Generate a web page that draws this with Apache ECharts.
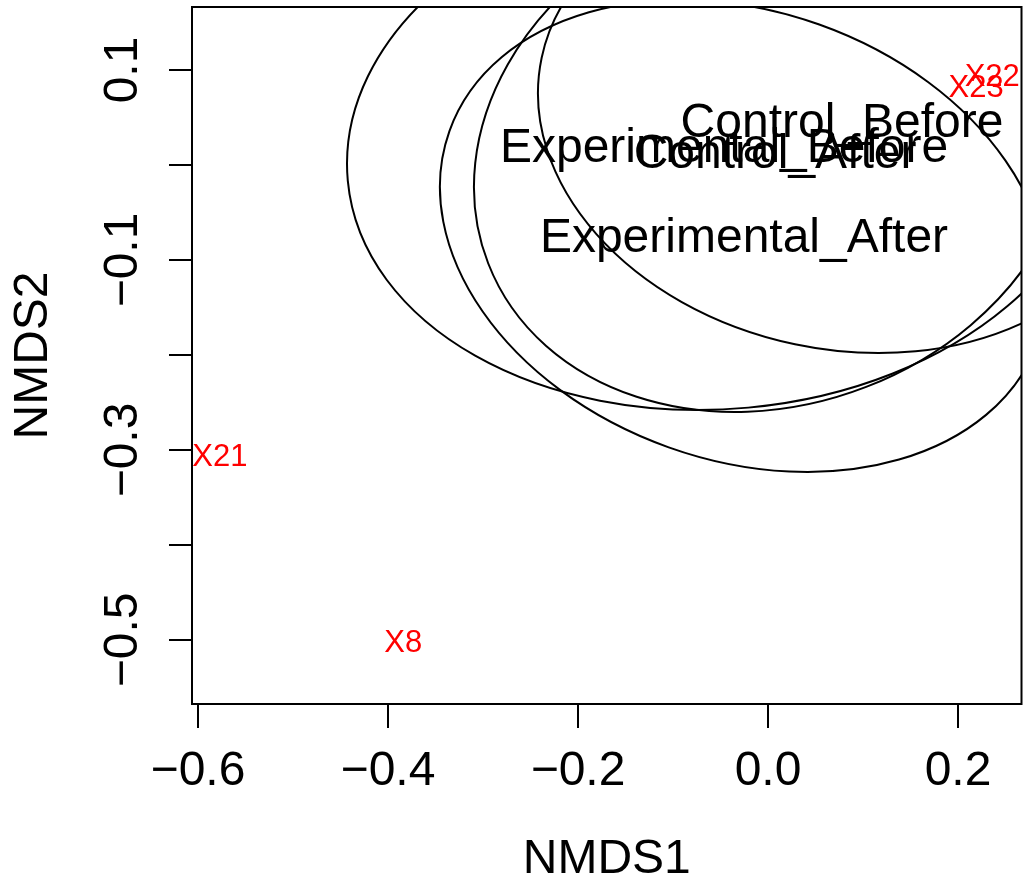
<!DOCTYPE html>
<html>
<head>
<meta charset="utf-8" />
<title>NMDS</title>
<script src="https://cdn.jsdelivr.net/npm/echarts@6/dist/echarts.min.js"></script>
<style>
	body { margin: 0; background: #fff; }
</style>
</head>
<body>
<div id="nmds" style="width:1023px;height:881px;"></div>
<script type="text/javascript">
	// group centroids and their ellipses (semi-axes in NMDS units, tilt in degrees)
	var groups = ['Control_Before', 'Experimental_Before', 'Control_After', 'Experimental_After'];
	var centerX = [0.0779, -0.0463, 0.0074, -0.0253];
	var centerY = [0.0463, 0.0200, 0.0137, -0.0747];
	var semiMajor = [0.3231, 0.3977, 0.3239, 0.3291];
	var semiMinor = [0.2401, 0.2766, 0.2653, 0.2362];
	var tiltDeg = [-11.9, 5.3, 21.2, -19.6];

	// sites labelled in red
	var sites = ['X21', 'X8', 'X22', 'X23'];
	var siteX = [-0.577, -0.384, 0.236, 0.219];
	var siteY = [-0.305, -0.500, 0.0958, 0.0842];

	// tick positions
	var xTicks = [-0.6, -0.4, -0.2, 0.0, 0.2];
	var yTicks = [-0.5, -0.4, -0.3, -0.2, -0.1, 0.0, 0.1];
	var yLabels = [-0.5, -0.3, -0.1, 0.1];

	var FONT = "'Liberation Sans', Arial, Helvetica, sans-serif";

	function fmt(v) {
		return v.toFixed(1).replace('-', '\u2212');
	}

	function nmdsplot() {
		var myChart = echarts.init(document.getElementById('nmds'));

		var ellipseData = groups.map(function (g, i) {
			return [centerX[i], centerY[i], semiMajor[i], semiMinor[i], tiltDeg[i]];
		});
		var groupData = groups.map(function (g, i) {
			return { name: g, value: [centerX[i], centerY[i]] };
		});
		var siteData = sites.map(function (s, i) {
			return { name: s, value: [siteX[i], siteY[i]] };
		});

		var option = {
			animation: false,
			backgroundColor: '#fff',
			textStyle: { fontFamily: FONT },
			grid: {
				left: 192, right: 1.5, top: 7, bottom: 177,
				outerBoundsMode: 'none',
				containLabel: false,
				show: true,
				borderColor: '#000',
				borderWidth: 2,
				backgroundColor: 'transparent'
			},
			xAxis: {
				type: 'value',
				min: -0.6063,
				max: 0.2668,
				name: 'NMDS1',
				nameLocation: 'middle',
				nameGap: 132,
				nameTextStyle: { fontSize: 48, color: '#000', fontFamily: FONT },
				splitLine: { show: false },
				axisLine: { show: false, onZero: false },
				axisTick: {
					show: true, length: 24, customValues: xTicks,
					lineStyle: { color: '#000', width: 2 }
				},
				axisLabel: {
					show: true, customValues: xTicks,
					margin: 44, fontSize: 48, color: '#000', fontFamily: FONT,
					formatter: fmt
				}
			},
			yAxis: {
				type: 'value',
				min: -0.5674,
				max: 0.1663,
				name: 'NMDS2',
				nameLocation: 'middle',
				nameGap: 134,
				nameTextStyle: { fontSize: 48, color: '#000', fontFamily: FONT },
				splitLine: { show: false },
				axisLine: { show: false, onZero: false },
				axisTick: {
					show: true, length: 23, customValues: yTicks,
					lineStyle: { color: '#000', width: 2 }
				},
				axisLabel: {
					show: true, customValues: yLabels,
					rotate: 90, margin: 44, fontSize: 48, color: '#000', fontFamily: FONT,
					formatter: fmt
				}
			},
			series: [
				{
					name: 'ellipses',
					type: 'custom',
					clip: true,
					encode: { x: 0, y: 1 },
					data: ellipseData,
					renderItem: function (params, api) {
						var c = api.coord([api.value(0), api.value(1)]);
						var s = api.size([api.value(2), api.value(3)]);
						return {
							type: 'ellipse',
							x: c[0],
							y: c[1],
							rotation: api.value(4) * Math.PI / 180,
							shape: { cx: 0, cy: 0, rx: Math.abs(s[0]), ry: Math.abs(s[1]) },
							style: { fill: 'none', stroke: '#000', lineWidth: 2 }
						};
					}
				},
				{
					name: 'groups',
					type: 'scatter',
					symbolSize: 0,
					itemStyle: { opacity: 1 },
					data: groupData,
					label: {
						show: true, position: 'inside', offset: [0, 3],
						formatter: '{b}', fontSize: 48, color: '#000', fontFamily: FONT
					}
				},
				{
					name: 'sites',
					type: 'scatter',
					symbolSize: 0,
					itemStyle: { opacity: 1 },
					data: siteData,
					label: {
						show: true, position: 'inside', offset: [0, 3],
						formatter: '{b}', fontSize: 31, color: '#ff0000', fontFamily: FONT
					}
				}
			]
		};
		myChart.setOption(option);
	}

	nmdsplot();
</script>
</body>
</html>
